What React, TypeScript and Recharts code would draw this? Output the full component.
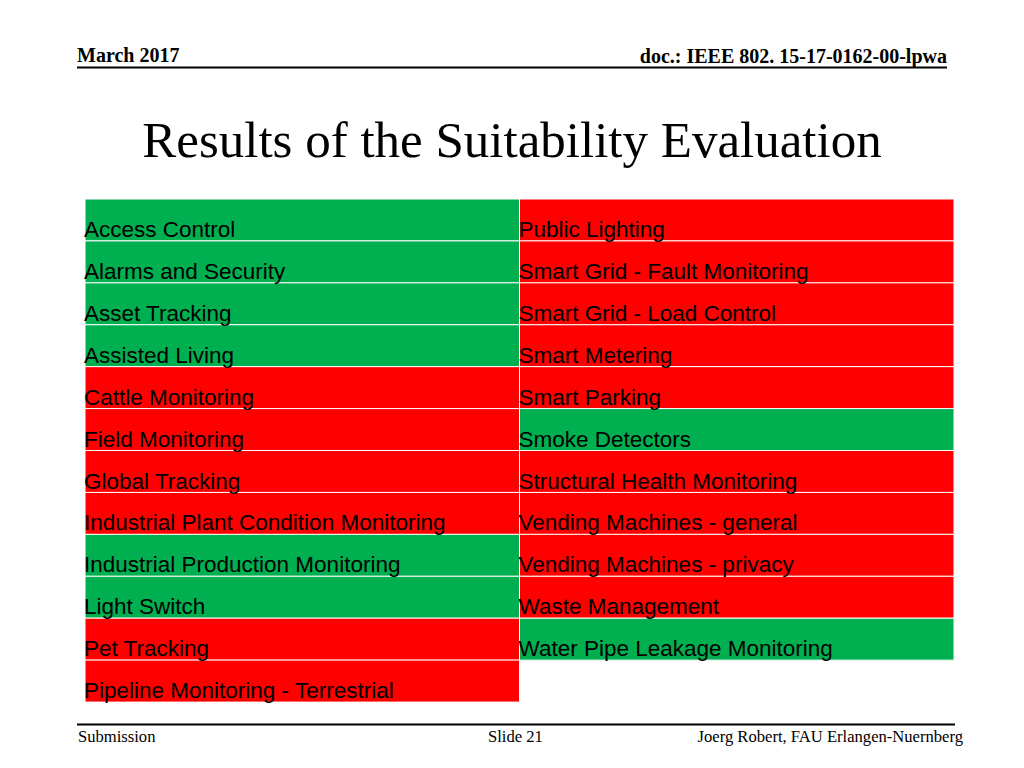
import React from "react";
import { BarChart, Bar, XAxis, YAxis, Cell, LabelList } from "recharts";

const leftLabels = [
  "Access Control",
  "Alarms and Security",
  "Asset Tracking",
  "Assisted Living",
  "Cattle Monitoring",
  "Field Monitoring",
  "Global Tracking",
  "Industrial Plant Condition Monitoring",
  "Industrial Production Monitoring",
  "Light Switch",
  "Pet Tracking",
  "Pipeline Monitoring - Terrestrial",
];
const leftSuitable = [true, true, true, true, false, false, false, false, true, true, false, false];

const rightLabels = [
  "Public Lighting",
  "Smart Grid - Fault Monitoring",
  "Smart Grid - Load Control",
  "Smart Metering",
  "Smart Parking",
  "Smoke Detectors",
  "Structural Health Monitoring",
  "Vending Machines - general",
  "Vending Machines - privacy",
  "Waste Management",
  "Water Pipe Leakage Monitoring",
];
const rightSuitable = [false, false, false, false, false, true, false, false, false, false, true];

const GREEN = "#00B050";
const RED = "#FF0000";

const data = leftLabels.map((l, i) => ({
  row: i,
  left: 1,
  right: i < rightLabels.length ? 1 : null,
  leftLabel: l,
  rightLabel: i < rightLabels.length ? rightLabels[i] : "",
}));

const renderCellLabel = (props: any) => {
  const { x, y, height, value } = props;
  if (!value) return null;
  return (
    <text
      x={Number(x) - 1}
      y={Number(y) + Number(height) - 4}
      fontSize={22.5}
      fontFamily="'Liberation Sans', Arial, sans-serif"
      fill="#000"
    >
      {value}
    </text>
  );
};

const serif = "'Liberation Serif', 'Times New Roman', serif";

export default function App() {
  return (
    <div style={{ position: "absolute", left: 0, top: 0, width: 1024, height: 768, background: "#fff" }}>
      <svg width={1024} height={768} style={{ position: "absolute", left: 0, top: 0 }}>
        <text x={77} y={62} fontFamily={serif} fontWeight="bold" fontSize={20} fill="#000">
          March 2017
        </text>
        <text x={947} y={63} textAnchor="end" fontFamily={serif} fontWeight="bold" fontSize={20} fill="#000">
          doc.: IEEE 802. 15-17-0162-00-lpwa
        </text>
        <line x1={77} x2={947} y1={67.5} y2={67.5} stroke="#000" strokeWidth={2} />
        <text x={512} y={157} textAnchor="middle" fontFamily={serif} fontSize={51} fill="#000">
          Results of the Suitability Evaluation
        </text>
        <line x1={77} x2={955} y1={724.5} y2={724.5} stroke="#000" strokeWidth={2} />
        <text x={78} y={742} fontFamily={serif} fontSize={16.6} fill="#000">
          Submission
        </text>
        <text x={488} y={742} fontFamily={serif} fontSize={16.6} fill="#000">
          Slide 21
        </text>
        <text x={963} y={742} textAnchor="end" fontFamily={serif} fontSize={16.6} fill="#000">
          Joerg Robert, FAU Erlangen-Nuernberg
        </text>
      </svg>
      <div style={{ position: "absolute", left: 0, top: 0 }}>
        <BarChart
          width={1024}
          height={768}
          data={data}
          layout="vertical"
          margin={{ top: 199, right: 70, bottom: 66, left: 85 }}
          barCategoryGap={0}
          barGap={0}
        >
          <XAxis type="number" domain={[0, 2]} hide />
          <YAxis type="category" dataKey="row" hide />
          <Bar dataKey="left" stackId="a" isAnimationActive={false} stroke="#fff" strokeWidth={1}>
            {data.map((d, i) => (
              <Cell key={`l${i}`} fill={leftSuitable[i] ? GREEN : RED} />
            ))}
            <LabelList dataKey="leftLabel" content={renderCellLabel} />
          </Bar>
          <Bar dataKey="right" stackId="a" isAnimationActive={false} stroke="#fff" strokeWidth={1}>
            {data.map((d, i) => (
              <Cell key={`r${i}`} fill={i < rightSuitable.length ? (rightSuitable[i] ? GREEN : RED) : "none"} />
            ))}
            <LabelList dataKey="rightLabel" content={renderCellLabel} />
          </Bar>
        </BarChart>
      </div>
    </div>
  );
}
